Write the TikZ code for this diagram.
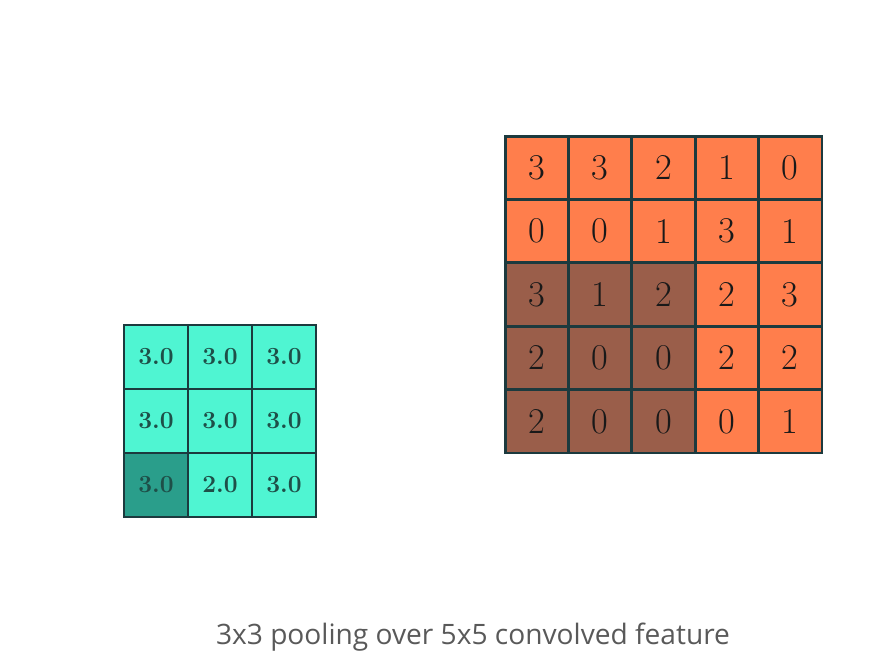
\documentclass[tikz,border=0pt]{standalone}
\usepackage{fontspec}
\usepackage{xcolor}
\usepackage{tikz}
\newfontfamily\captionfont{Open Sans}
\definecolor{cellline}{HTML}{1C3A3E}
\definecolor{pooled}{HTML}{4FF5D2}
\definecolor{pooledsel}{HTML}{2A9E8B}
\definecolor{pooledtext}{HTML}{1E4F48}
\definecolor{conv}{HTML}{FF7E4C}
\definecolor{convsel}{HTML}{9A5E4A}

\begin{document}
\begin{tikzpicture}[x=0.03cm,y=-0.03cm,
  pcell/.style={draw=cellline,line width=2.5pt,fill=pooled,minimum size=1.92cm,inner sep=0pt,font=\fontsize{21}{21}\selectfont\bfseries,text=pooledtext},
  ccell/.style={draw=cellline,line width=2.5pt,fill=conv,minimum size=1.9cm,inner sep=0pt,font=\fontsize{31}{31}\selectfont,text=black!90}]
\useasboundingbox (0,0) rectangle (881,663);
% pooled feature
\node[pcell]              (P11) at (156,357) {3.0};
\node[pcell]              (P12) at (220,357) {3.0};
\node[pcell]              (P13) at (284,357) {3.0};
\node[pcell]              (P21) at (156,421) {3.0};
\node[pcell]              (P22) at (220,421) {3.0};
\node[pcell]              (P23) at (284,421) {3.0};
\node[pcell,fill=pooledsel] (P31) at (156,485) {3.0};
\node[pcell]              (P32) at (220,485) {2.0};
\node[pcell]              (P33) at (284,485) {3.0};

% convolved feature
\node[ccell]              (C11) at (536.7,167.7) {3};
\node[ccell]              (C12) at (600.1,167.7) {3};
\node[ccell]              (C13) at (663.5,167.7) {2};
\node[ccell]              (C14) at (726.9,167.7) {1};
\node[ccell]              (C15) at (790.3,167.7) {0};
\node[ccell]              (C21) at (536.7,231.1) {0};
\node[ccell]              (C22) at (600.1,231.1) {0};
\node[ccell]              (C23) at (663.5,231.1) {1};
\node[ccell]              (C24) at (726.9,231.1) {3};
\node[ccell]              (C25) at (790.3,231.1) {1};
\node[ccell,fill=convsel] (C31) at (536.7,294.5) {3};
\node[ccell,fill=convsel] (C32) at (600.1,294.5) {1};
\node[ccell,fill=convsel] (C33) at (663.5,294.5) {2};
\node[ccell]              (C34) at (726.9,294.5) {2};
\node[ccell]              (C35) at (790.3,294.5) {3};
\node[ccell,fill=convsel] (C41) at (536.7,357.9) {2};
\node[ccell,fill=convsel] (C42) at (600.1,357.9) {0};
\node[ccell,fill=convsel] (C43) at (663.5,357.9) {0};
\node[ccell]              (C44) at (726.9,357.9) {2};
\node[ccell]              (C45) at (790.3,357.9) {2};
\node[ccell,fill=convsel] (C51) at (536.7,421.3) {2};
\node[ccell,fill=convsel] (C52) at (600.1,421.3) {0};
\node[ccell,fill=convsel] (C53) at (663.5,421.3) {0};
\node[ccell]              (C54) at (726.9,421.3) {0};
\node[ccell]              (C55) at (790.3,421.3) {1};

\node[text=black!65,font=\captionfont\fontsize{24}{24}\selectfont] (title) at (473,637) {3x3 pooling over 5x5 convolved feature};
\end{tikzpicture}
\end{document}
